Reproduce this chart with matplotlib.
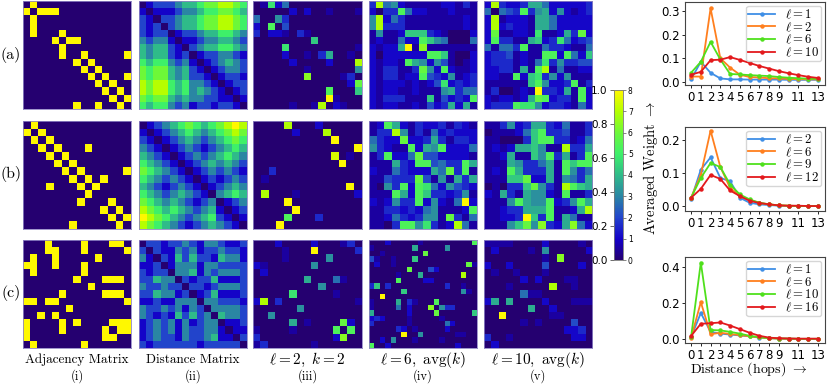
import numpy as np
import matplotlib
matplotlib.use("Agg")
import matplotlib.pyplot as plt
from matplotlib.colors import LinearSegmentedColormap
from matplotlib.cm import ScalarMappable
from matplotlib.colors import Normalize

plt.rcParams['mathtext.fontset'] = 'cm'

# ---------- matrices ----------
adj_a = """01000 00000 00000|10111 00000 00000|01000 00000 00000|01000 00000 00000|01000 10000 00000
00001 01100 00000|00000 10000 00000|00000 10010 00001|00000 00101 00000|00000 00010 10000
00000 00001 01001|00000 00000 10100|00000 00000 01010|00000 00000 00101|00000 00100 10010"""
adj_b = """01000 00000 0000|10100 00000 0000|01010 00000 0000|00101 00010 0000|00010 10000 0000
00001 01000 0000|00000 10100 0001|00000 01010 1000|00010 00101 0000|00000 00010 0000
00000 00100 0100|00000 00000 1010|00000 00000 0101|00000 01000 0010"""
adj_c = """00010 00010 00110|00011 00010 00001|01001 00000 10000|11001 00010 00000|01000 00010 00000
00000 00100 01110|00000 00001 00000|00000 10000 01110|11011 00000 00001|00000 01000 00000
00101 00000 00000|10000 10100 00111|10000 10000 01011|10000 00000 01100|01000 00010 00000"""

dist_a = """01222 34456 67765|10111 23345 56654|21022 34456 67765|21202 34456 67765|21220 12234 45543
32331 01123 34432|43442 10234 45543|43442 12012 23321|54553 23101 23432|65664 34210 12332
65664 34221 01221|76775 45332 10122|76775 45343 21012|65664 34332 21101|54553 23122 12210"""
dist_b = """01234 56545 6787|10123 45434 5676|21012 34323 4565|32101 23212 3454|43210 12323 4543
54321 01234 3432|65432 10123 2321|54323 21012 1232|43212 32101 2343|54323 43210 3454
65434 32123 0123|76545 43234 1012|87654 32345 2101|76543 21234 3210"""
dist_c = """02212 23213 32112|20211 32312 23221|31021 42422 14331|11201 33313 32222|21220 33413 23332
22433 02122 41112|32232 20221 23332|22433 12012 41112|11211 33303 32221|32232 31320 33332
32121 42423 04332|12323 13123 30112|12323 13223 31011|12322 13223 41102|21222 22212 22220"""

att_a_iii = """01925 00000 00000|00000 20200 10001|50063 00000 00000|20a04 00000 00000|30221 03100 00000
00000 00080 00000|00009 00000 00001|00002 00103 70010|00000 20000 2000d|00000 00100 00006
00000 00c00 00130|00000 00000 0002b|00000 00000 a0008|00000 00000 f1000|00000 1001d 02100"""
att_a_iv = """3d562 11111 22131|2033a 52211 12111|6d253 11111 11121|6d333 11111 11121|16112 88832 10002
12115 22a86 50005|21227 f1c11 11111|20222 222aa 81002|21221 a7626 41012|21331 13b62 a2112
21331 22a43 26123|21222 12124 92323|21221 12111 67355|21333 11181 4232a|21221 12142 37271"""
att_a_v = """2d322 37752 22223|50543 a3672 62123|2d122 21775 22222|2d232 21775 22222|2b112 21911 273b2
2a331 17823 95234|51553 a1153 32115|23341 211aa 2a528|23331 21593 63344|22331 71ad1 51122
2211a 28936 26111|11111 18a62 23a13|13001 21f33 271a2|21221 27ba2 331a2|2333a 99623 32152"""

att_b_iii = """0000d 00020 0000|00000 2000d 0000|00000 00000 f000|00000 00000 000f|00000 00000 e010
00000 00000 0f00|00300 00000 0000|01000 00000 0000|00000 00000 00f0|0d000 10000 0002
0000f 00000 0000|00000 f0000 0000|0000a 00030 0000|000f0 00000 0000"""
att_b_iv = """12a72 13223 1321|133d6 13152 3222|5322b 22373 1332|63211 a276a 2225|13a22 5b442 2221
11173 2aa45 33a7|21153 22275 b3a1|11433 3b416 1737|1063a 2a952 6432|111a7 2a833 2361
21263 3a262 15f2|11332 32561 112a|11253 23661 b315|1103a a6931 2d51"""
att_b_v = """11362 37732 5113|01112 58a33 4113|11000 38aa3 3125|12127 78611 d337|11271 186a3 713a
11176 33571 a8aa|121a7 33371 a635|11188 b2271 6537|01033 8b631 da87|21731 76621 a113
1116a 766a2 36a7|11233 777a1 127d|11223 f83a1 7511|11168 b6c32 7c52"""

att_c_iii = """00020 00020 00130|00001 000f0 00003|00001 00000 60000|21000 00060 00000|02000 00000 00000
00000 00700 05100|00000 00006 00000|00000 90000 01000|2d030 00000 00001|00000 06000 00000
00600 00000 00000|00000 70100 00b20|10000 10000 0a0a0|30000 00000 02c00|13000 00010 00000"""
att_c_iv = """00020 00001 00000 0000a|10000 00070 00006 00000|00100 00000 b0000 00000|41001 00080 00000 00000
02001 00000 00000 000b1|00000 00b00 04200 00000|00000 10007 00000 00d00|00000 a0000 22000 00000
38030 00000 00003 00100|00000 08000 00000 00610|00f00 00000 00000 00000|10000 70310 00a00 00000
10000 50200 0c063 30000|70000 00200 00b00 00008|23200 00100 00010 00000|30000 00100 00005 20000
00000 32010 00002 00000|00000 0f006 00000 01100|00206 00010 00010 00000|a0020 00000 00000 02000"""
att_c_v = """11110 00020 00010|02000 01060 00002|00000 00010 c0000|20020 00040 00020|01001 00010 00000
00000 20200 01100|00010 0000d 00100|00000 51100 00000|27070 00020 00111|00000 07002 00000
00f00 00001 10000|00000 10100 00400|00000 00000 02230|30010 00000 00220|02000 00000 00000"""

# ---------- hop-distance curves ----------
hops = list(range(14))
hop_ticks = [0, 1, 2, 3, 4, 5, 6, 7, 8, 9, 11, 13]

names_a = [r'$\ell=1$', r'$\ell=2$', r'$\ell=6$', r'$\ell=10$']
a_s1 = [.010, .085, .038, .014, .010, .010, .009, .009, .009, .009, .008, .008, .008, .008]
a_s2 = [.022, .022, .313, .100, .060, .030, .020, .018, .015, .014, .012, .011, .010, .010]
a_s3 = [.038, .085, .170, .095, .033, .031, .028, .026, .024, .020, .017, .015, .013, .011]
a_s4 = [.030, .042, .092, .094, .105, .093, .080, .067, .056, .045, .036, .028, .021, .016]

names_b = [r'$\ell=2$', r'$\ell=6$', r'$\ell=9$', r'$\ell=12$']
b_s1 = [.020, .110, .147, .085, .075, .025, .010, .005, .003, .001, .000, .000, .000, .000]
b_s2 = [.025, .095, .228, .118, .055, .030, .018, .010, .005, .002, .001, .000, .000, .000]
b_s3 = [.025, .085, .130, .118, .065, .035, .020, .010, .005, .002, .001, .000, .000, .000]
b_s4 = [.025, .052, .094, .082, .047, .030, .016, .009, .005, .002, .001, .001, .000, .000]

names_c = [r'$\ell=1$', r'$\ell=6$', r'$\ell=10$', r'$\ell=16$']
c_s1 = [.010, .145, .040, .030, .025, .020, .015, .008, .005, .003, .002, .001, .001, .001]
c_s2 = [.005, .205, .027, .035, .028, .022, .015, .009, .005, .003, .002, .001, .001, .001]
c_s3 = [.010, .425, .050, .048, .040, .030, .018, .010, .005, .003, .002, .001, .001, .001]
c_s4 = [.017, .085, .088, .092, .075, .055, .035, .018, .008, .004, .003, .002, .002, .002]

row_labels = ['(a)', '(b)', '(c)']
col_titles = ['Adjacency Matrix', 'Distance Matrix', r'$\ell=2,\ k=2$',
              r'$\ell=6,\ \mathrm{avg}(k)$', r'$\ell=10,\ \mathrm{avg}(k)$']
col_subs = ['(i)', '(ii)', '(iii)', '(iv)', '(v)']

# ---------- helpers ----------
W, H = 830, 384
fig = plt.figure(figsize=(W / 100, H / 100), dpi=100)
cmap = LinearSegmentedColormap.from_list('cb', [
    (0.00, '#250070'), (0.12, '#1400c8'), (0.25, '#2244cc'), (0.375, '#2a86a4'),
    (0.50, '#2fbb8a'), (0.625, '#3ef06a'), (0.75, '#6cf83a'), (0.875, '#b4ff00'),
    (1.00, '#fff800')])


def pix_axes(x0, y0, x1, y1):
    return fig.add_axes([x0 / W, 1 - y1 / H, (x1 - x0) / W, (y1 - y0) / H])


def parse(text, base, scale):
    rows = text.replace('\n', '|').split('|')
    return np.array([[int(c, base) / scale for c in r.replace(' ', '')] for r in rows])


col_x = [(23, 131), (139, 247), (253, 362), (369, 477), (484, 592)]
row_y = [(1, 109), (121, 229), (240, 348)]
grid = [
    [parse(adj_a, 2, 1), parse(dist_a, 10, 8), parse(att_a_iii, 16, 15), parse(att_a_iv, 16, 15), parse(att_a_v, 16, 15)],
    [parse(adj_b, 2, 1), parse(dist_b, 10, 8), parse(att_b_iii, 16, 15), parse(att_b_iv, 16, 15), parse(att_b_v, 16, 15)],
    [parse(adj_c, 2, 1), parse(dist_c, 10, 8), parse(att_c_iii, 16, 15), parse(att_c_iv, 16, 15), parse(att_c_v, 16, 15)],
]
for r, (y0, y1) in enumerate(row_y):
    for c, (x0, x1) in enumerate(col_x):
        ax = pix_axes(x0, y0, x1, y1)
        ax.imshow(grid[r][c], cmap=cmap, vmin=0, vmax=1, aspect='auto', interpolation='nearest')
        ax.set_xticks([])
        ax.set_yticks([])
        for s in ax.spines.values():
            s.set_color('#8f84c4')
            s.set_linewidth(0.6)

for lab, y in zip(row_labels, [55, 174, 293]):
    fig.text(11 / W, 1 - y / H, lab, fontfamily='cmr10', fontsize=11.5, ha='center', va='center')
for i, ((x0, x1), t, s) in enumerate(zip(col_x, col_titles, col_subs)):
    xc = (x0 + x1) / 2
    size = 9.5 if i < 2 else 11
    fig.text(xc / W, 1 - 360 / H, t, fontfamily='cmr10', fontsize=size, ha='center', va='center')
    fig.text(xc / W, 1 - 376 / H, s, fontfamily='cmr10', fontsize=9, ha='center', va='center')

# ---------- colour bar ----------
cax = pix_axes(614, 90, 623, 260)
cb = fig.colorbar(ScalarMappable(Normalize(0, 1), cmap), cax=cax)
cb.set_ticks([0, .2, .4, .6, .8, 1.0])
cb.ax.yaxis.set_ticks_position('left')
cb.ax.tick_params(labelsize=7.5, length=3, width=0.6, pad=1.5, color='#555555')
cb.outline.set_linewidth(0.6)
cb.outline.set_edgecolor('#777777')
cax2 = cax.twinx()
cax2.set_ylim(0, 8)
cax2.set_yticks(range(9))
cax2.tick_params(labelsize=5.5, length=2, width=0.5, pad=1.5, color='#555555')
for s in cax2.spines.values():
    s.set_visible(False)

# ---------- curves ----------
colors = ['#3f8fe6', '#ff7f1e', '#4fe01c', '#e3191c']
panels = [
    ((685, 2, 825, 85), (-0.014, 0.34), [0, .1, .2, .3], names_a, [a_s1, a_s2, a_s3, a_s4], '%.1f'),
    ((685, 127, 825, 211), (-0.015, 0.239), [0, .1, .2], names_b, [b_s1, b_s2, b_s3, b_s4], '%.1f'),
    ((685, 257, 825, 343), (-0.022, 0.456), [0, .2, .4], names_c, [c_s1, c_s2, c_s3, c_s4], '%.1f'),
]
for (x0, y0, x1, y1), ylim, yt, names, series, fmt in panels:
    ax = pix_axes(x0, y0, x1, y1)
    for vals, name, col in zip(series, names, colors):
        ax.plot(hops, vals, color=col, lw=1.3, marker='o', ms=2.2, label=name)
    ax.set_xlim(-0.62, 13.72)
    ax.set_ylim(*ylim)
    ax.set_xticks(hop_ticks)
    ax.set_yticks(yt)
    ax.set_yticklabels([fmt % v for v in yt])
    ax.tick_params(labelsize=8.5, length=2.5, width=0.6, pad=1.5)
    for s in ax.spines.values():
        s.set_linewidth(0.8)
        s.set_color('#444444')
    ax.legend(loc='upper right', fontsize=9.2, borderaxespad=0.3, labelspacing=-0.05,
              handlelength=2.1, handletextpad=0.8, borderpad=0.15, framealpha=0.8)

fig.text(650 / W, 1 - 168 / H, r'Averaged Weight$\ \rightarrow$', fontfamily='cmr10', fontsize=10.5,
         rotation=90, ha='center', va='center')
fig.text(749 / W, 1 - 369 / H, r'Distance (hops)$\ \rightarrow$', fontfamily='cmr10', fontsize=10,
         ha='center', va='center')

fig.savefig('out.png', dpi=100)
